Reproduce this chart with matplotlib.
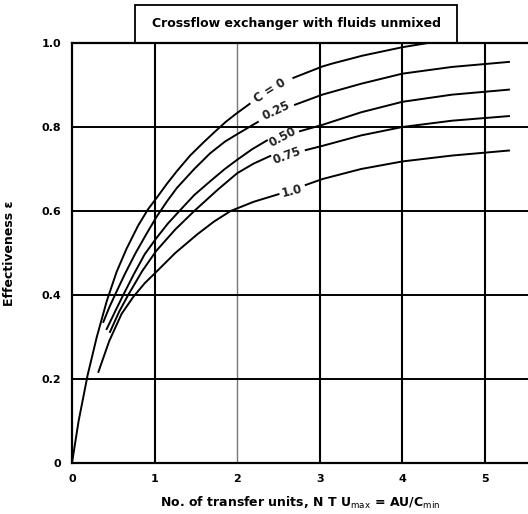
import numpy as np
import matplotlib.pyplot as plt
from matplotlib.patches import Rectangle

nan = np.nan

# values (nan = gap where the curve label sits)
ntu_c0 = [0, 0.08, 0.19, 0.30, 0.42, 0.54, 0.66, 0.80, 0.92, 1.02, 1.15, 1.27, 1.43,
          1.59, 1.72, 1.86, 1.99, 2.15,
          nan, 2.68, 3.03, 3.15, 3.52, 4.0, 4.31, 5.29]
eff_c0 = [0, 0.10, 0.21, 0.30, 0.385, 0.455, 0.51, 0.565, 0.604, 0.630, 0.665, 0.695, 0.732,
          0.763, 0.787, 0.812, 0.832, 0.855,
          nan, 0.917, 0.944, 0.951, 0.97, 0.99, 1.0, 1.0]

ntu_c25 = [0.38, 0.45, 0.52, 0.64, 0.77, 0.90, 1.02, 1.15, 1.27, 1.48, 1.67, 1.85, 2.0, 2.25,
           nan, 2.70, 3.03, 3.5, 4.0, 4.6, 5.29]
eff_c25 = [0.336, 0.37, 0.40, 0.45, 0.50, 0.545, 0.585, 0.623, 0.655, 0.70, 0.737, 0.765, 0.783, 0.812,
           nan, 0.853, 0.877, 0.903, 0.927, 0.943, 0.955]

ntu_c50 = [0.42, 0.52, 0.62, 0.75, 0.88, 1.02, 1.16, 1.30, 1.48, 1.68, 1.85, 2.0, 2.18, 2.36,
           nan, 2.76, 3.03, 3.5, 4.0, 4.6, 5.29]
eff_c50 = [0.319, 0.36, 0.40, 0.45, 0.497, 0.535, 0.57, 0.60, 0.638, 0.672, 0.70, 0.722, 0.747, 0.768,
           nan, 0.79, 0.805, 0.835, 0.86, 0.877, 0.889]

ntu_c75 = [0.46, 0.57, 0.68, 0.85, 1.02, 1.25, 1.48, 1.76, 2.0, 2.20, 2.40,
           nan, 2.83, 3.03, 3.5, 4.0, 4.6, 5.29]
eff_c75 = [0.312, 0.36, 0.40, 0.457, 0.505, 0.556, 0.60, 0.65, 0.69, 0.713, 0.731,
           nan, 0.745, 0.755, 0.78, 0.80, 0.815, 0.826]

ntu_c100 = [0.32, 0.45, 0.60, 0.74, 0.88, 1.02, 1.25, 1.52, 1.72, 1.92, 2.2, 2.5,
            nan, 2.83, 3.03, 3.5, 4.0, 4.6, 5.29]
eff_c100 = [0.217, 0.29, 0.355, 0.395, 0.428, 0.455, 0.50, 0.545, 0.575, 0.60, 0.622, 0.64,
            nan, 0.662, 0.676, 0.70, 0.718, 0.732, 0.744]

curve_labels = ["C = 0", "0.25", "0.50", "0.75", "1.0"]
label_x = [2.40, 2.47, 2.55, 2.60, 2.66]
label_y = [0.887, 0.838, 0.775, 0.731, 0.647]
label_rot = [32, 25, 28, 20, 14]

xticks = [0, 1, 2, 3, 4, 5]
yticks = [0, 0.2, 0.4, 0.6, 0.8, 1.0]
ytick_labels = ["0", "0.2", "0.4", "0.6", "0.8", "1.0"]

fig = plt.figure(figsize=(5.28, 5.14), dpi=100)
ax = fig.add_axes([72 / 528, 51 / 514, 456 / 528, 420 / 514])

ax.set_xlim(0, 456 / 82.6)
ax.set_ylim(0, 1.0)

# grid
for xv in xticks[1:]:
    if xv == 2:
        ax.axvline(xv, color="#777777", lw=1.0, zorder=1)
    else:
        ax.axvline(xv, color="black", lw=1.5, zorder=1)
for yv in yticks[1:-1]:
    ax.axhline(yv, color="black", lw=1.4, zorder=1)

for xs, ys in [(ntu_c0, eff_c0), (ntu_c25, eff_c25), (ntu_c50, eff_c50),
               (ntu_c75, eff_c75), (ntu_c100, eff_c100)]:
    ax.plot(xs, ys, color="black", lw=1.4, zorder=2, solid_joinstyle="round")

for t, x, y, r in zip(curve_labels, label_x, label_y, label_rot):
    ax.text(x, y, t, rotation=r, ha="center", va="center", fontsize=8.5,
            fontweight="bold", color="#222222", zorder=3)

ax.spines["right"].set_visible(False)
for s in ["left", "bottom", "top"]:
    ax.spines[s].set_linewidth(1.6)

ax.set_xticks(xticks)
ax.set_xticklabels([str(v) for v in xticks], fontsize=8, fontweight="bold")
ax.set_yticks(yticks)
ax.set_yticklabels(ytick_labels, fontsize=8, fontweight="bold")
ax.tick_params(length=0, pad=8)

ax.set_xlabel(r"No. of transfer units, N T U$_{\mathrm{max}}$ = AU/C$_{\mathrm{min}}$",
              fontsize=9, fontweight="bold", labelpad=8)
ax.set_ylabel("Effectiveness ε", fontsize=9, fontweight="bold")
ax.yaxis.set_label_coords(-56 / 456, 0.5)

# title box above the plot
ax.add_patch(Rectangle((63 / 456, 1.0), 322 / 456, 38 / 420, transform=ax.transAxes,
                       fill=False, edgecolor="black", lw=1.3, clip_on=False))
ax.text(224 / 456, 1.0 + 19 / 420, "Crossflow exchanger with fluids unmixed",
        transform=ax.transAxes, ha="center", va="center", fontsize=9, fontweight="bold")

fig.savefig("out.png", dpi=100)
